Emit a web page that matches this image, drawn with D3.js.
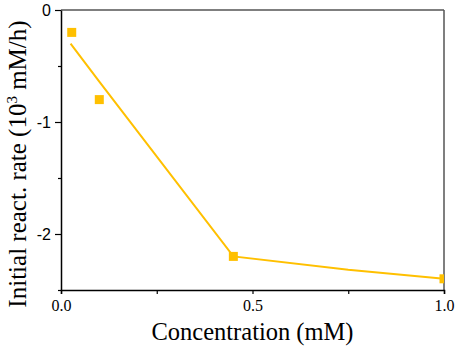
<!DOCTYPE html>
<html>
<head>
<meta charset="utf-8">
<script src="https://cdn.jsdelivr.net/npm/d3@7"></script>
<style>
  html, body { margin: 0; padding: 0; background: #fff; }
  svg { display: block; }
</style>
</head>
<body>
<svg id="chart" width="457" height="348"></svg>
<script>
// measured points
const pointX = [0.028, 0.1, 0.45, 1.0];
const pointY = [-0.2, -0.8, -2.2, -2.4];
// fit line
const lineX = [0.025, 0.1, 0.45, 0.75, 1.0];
const lineY = [-0.3, -0.64, -2.2, -2.32, -2.4];

const xTicks = [0, 0.25, 0.5, 0.75, 1.0];
const xLabels = ["0.0", "", "0.5", "", "1.0"];
const yTicks = [0, -0.5, -1, -1.5, -2, -2.5];
const yLabels = ["0", "", "-1", "", "-2", ""];

const svg = d3.select("#chart");
const width = 457, height = 348;
const margin = { top: 10, right: 13, bottom: 58, left: 61 };
const innerWidth = width - margin.left - margin.right;
const innerHeight = height - margin.top - margin.bottom;
const color = "#FFC000";

const x = d3.scaleLinear().domain([0, 1]).range([0, innerWidth]);
const y = d3.scaleLinear().domain([-2.5, 0]).range([innerHeight, 0]);

svg.append("defs").append("clipPath").attr("id", "clip")
    .append("rect").attr("width", innerWidth).attr("height", innerHeight);

const g = svg.append("g").attr("transform", `translate(${margin.left},${margin.top})`);

// frame top / right
g.append("line").attr("x1", 0).attr("x2", innerWidth).attr("y1", 0).attr("y2", 0)
    .attr("stroke", "#555").attr("stroke-width", 1.5);
g.append("line").attr("x1", innerWidth).attr("x2", innerWidth).attr("y1", 0).attr("y2", innerHeight)
    .attr("stroke", "#555").attr("stroke-width", 1.5);

// x axis
const xAxis = g.append("g")
    .attr("transform", `translate(0,${innerHeight})`)
    .call(d3.axisBottom(x).tickValues(xTicks).tickSize(4).tickPadding(6)
        .tickFormat((d, i) => xLabels[i]));
xAxis.select(".domain").attr("stroke", "#000").attr("stroke-width", 1.5);
xAxis.selectAll(".tick line").attr("stroke", "#000").attr("stroke-width", 1.2);
xAxis.selectAll("text")
    .attr("font-family", "'Liberation Serif', 'Times New Roman', serif")
    .attr("font-size", "16px").attr("fill", "#000");
xAxis.selectAll("text").filter((d, i) => !xLabels[i]).remove();

// y axis
const yAxis = g.append("g")
    .call(d3.axisLeft(y).tickValues(yTicks).tickSizeOuter(0).tickPadding(4)
        .tickFormat((d, i) => yLabels[i]));
yAxis.select(".domain").attr("stroke", "#000").attr("stroke-width", 1.5);
yAxis.selectAll(".tick line")
    .attr("stroke", "#000").attr("stroke-width", 1.2)
    .attr("x2", (d, i) => yLabels[i] ? -6 : -3);
yAxis.selectAll("text")
    .attr("font-family", "'Liberation Sans', Arial, sans-serif")
    .attr("font-size", "16px").attr("fill", "#000");
yAxis.selectAll("text").filter((d, i) => !yLabels[i]).remove();

// fit line
const line = d3.line().x(d => x(d[0])).y(d => y(d[1]));
g.append("path")
    .datum(lineX.map((v, i) => [v, lineY[i]]))
    .attr("fill", "none")
    .attr("stroke", color)
    .attr("stroke-width", 2)
    .attr("d", line);

// squares
const s = 9;
g.append("g").attr("clip-path", "url(#clip)")
    .selectAll("rect")
    .data(pointX.map((v, i) => [v, pointY[i]]))
    .join("rect")
    .attr("x", d => x(d[0]) - s / 2)
    .attr("y", d => y(d[1]) - s / 2)
    .attr("width", s)
    .attr("height", s)
    .attr("fill", color);

// axis titles
svg.append("text")
    .attr("x", margin.left + x(0.5))
    .attr("y", 340)
    .attr("text-anchor", "middle")
    .attr("font-family", "'Liberation Serif', 'Times New Roman', serif")
    .attr("font-size", "24.5px")
    .attr("fill", "#000")
    .text("Concentration (mM)");

const yt = svg.append("text")
    .attr("transform", "translate(26,164) rotate(-90)")
    .attr("text-anchor", "middle")
    .attr("font-family", "'Liberation Serif', 'Times New Roman', serif")
    .attr("font-size", "25px")
    .attr("fill", "#000");
yt.append("tspan").text("Initial react. rate (10");
yt.append("tspan").attr("dy", -9).attr("font-size", "15px").text("3");
yt.append("tspan").attr("dy", 9).text(" mM/h)");
</script>
</body>
</html>
